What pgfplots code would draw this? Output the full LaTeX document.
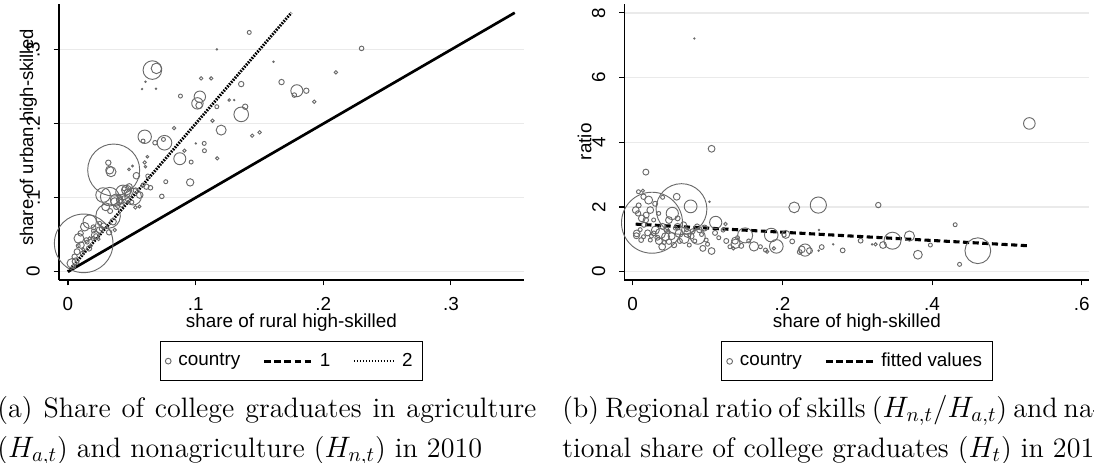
\documentclass[border=0pt]{standalone}
\usepackage{pgfplots}
\pgfplotsset{compat=1.18}
\usepackage{fontspec}
\newfontfamily\arial{Liberation Sans}
\newcommand\af{\arial\fontsize{9.2}{11}\selectfont}
\newcommand\capf{\fontsize{13.7}{16}\selectfont}
\definecolor{markgray}{RGB}{105,105,105}
\definecolor{gridgray}{RGB}{234,234,234}
\pgfplotsset{
  stata/.style={
    scale only axis, width=226.6pt, height=134.55pt,
    axis x line*=bottom, axis y line*=left,
    axis line style={-, black, line width=0.5pt},
    tick align=outside, major tick length=2.6pt,
    tick style={black, line width=0.5pt},
    ymajorgrids, grid style={gridgray, line width=0.6pt},
    tick label style={font=\af},
    xticklabel style={anchor=north, inner sep=0pt},
    yticklabel style={rotate=90, anchor=south, inner sep=0pt},
    xticklabel shift=5.6pt, yticklabel shift=6.5pt,
    every axis x label/.style={at={(axis description cs:0.5,-0.1717)}, anchor=base, font=\af, inner sep=0pt},
    clip=false,
    legend style={at={(0.5,-0.2225)}, anchor=north, font=\af, draw=black,
      line width=0.5pt, inner xsep=2pt, inner ysep=3.4pt, legend columns=-1,
      /tikz/every even column/.append style={column sep=8pt},
      nodes={inner xsep=3pt, inner ysep=2pt}},
  },
  bubbles/.style={scatter, only marks, mark=o,
    scatter/use mapped color={draw=markgray},
    visualization depends on={\thisrow{r}\as\rr},
    scatter/@pre marker code/.append style={/tikz/mark size=\rr*0.4875pt},
    mark options={line width=0.45pt}},
  legcircle/.style={legend image code/.code={\path[draw=none] (0pt,-1pt) rectangle (4pt,1pt); \draw[markgray, line width=0.45pt] (2pt,0pt) circle (1.4pt);}},
  legdash/.style={legend image code/.code={\draw[black, line width=1.4pt, dash pattern=on 3.3pt off 1.6pt] (0pt,0pt) -- (23.4pt,0pt);}},
  legdot/.style={legend image code/.code={\draw[black, line width=0.9pt, dash pattern=on 0.5pt off 0.95pt] (0pt,0pt) -- (20pt,0pt);}},
}
\begin{document}
\begin{tikzpicture}
\begin{axis}[stata, at={(28.76pt,89.21pt)}, anchor=south west,
  xmin=-0.00705, xmax=0.3571, ymin=-0.01122, ymax=0.3618,
  xtick={0,0.1,0.2,0.3}, xticklabels={0,.1,.2,.3},
  ytick={0,0.1,0.2,0.3}, yticklabels={0,.1,.2,.3},
  xlabel={share of rural high-skilled},
  ylabel={share of urban high-skilled},
  every axis y label/.style={at={(axis description cs:-0.0559,0.516)}, rotate=90, anchor=base, font=\arial\fontsize{9.0}{11}\selectfont, inner sep=0pt}]
\addplot[bubbles, forget plot] table {
x y r
0.1420 0.3234 2.0
0.2300 0.3018 2.3
0.1166 0.3005 0.7
0.0661 0.2725 9.3
0.0693 0.2748 5.3
0.0607 0.2568 0.7
0.0580 0.2468 0.7
0.0690 0.2473 0.7
0.1043 0.2613 1.7
0.1122 0.2613 1.7
0.1610 0.2838 0.7
0.2099 0.2694 1.7
0.1673 0.2563 2.7
0.1357 0.2536 2.7
0.1793 0.2446 6.0
0.1773 0.2387 2.3
0.1867 0.2446 2.7
0.1929 0.2297 1.7
0.1033 0.2365 5.7
0.1014 0.2275 5.7
0.1027 0.2248 3.3
0.0881 0.2374 2.0
0.1263 0.2320 1.3
0.1302 0.2320 0.7
0.1166 0.2230 2.0
0.1388 0.2230 2.7
0.1357 0.2126 7.3
0.1132 0.2041 1.7
0.1200 0.1914 5.0
0.0831 0.1941 1.7
0.1443 0.1838 1.7
0.1501 0.1883 1.7
0.0601 0.1824 6.7
0.0588 0.1766 2.0
0.0682 0.1743 2.3
0.0756 0.1743 7.3
0.0748 0.1788 2.0
0.1001 0.1734 0.7
0.1067 0.1734 2.0
0.1069 0.1635 2.0
0.0912 0.1635 1.7
0.0876 0.1527 6.0
0.1169 0.1532 1.7
0.0965 0.1482 2.0
0.0622 0.1554 1.3
0.0601 0.1477 1.7
0.0607 0.1419 1.3
0.0358 0.1374 26.0
0.0316 0.1473 2.7
0.0327 0.1374 4.0
0.0337 0.1351 5.0
0.0478 0.1383 1.3
0.0505 0.1428 1.0
0.0536 0.1297 3.3
0.0625 0.1293 2.0
0.0766 0.1216 2.0
0.0957 0.1207 3.7
0.0646 0.1135 2.3
0.0735 0.1018 2.3
0.0528 0.0869 1.7
0.0275 0.1036 7.3
0.0327 0.1014 9.3
0.0431 0.1072 7.3
0.0458 0.1104 5.0
0.0379 0.0968 6.0
0.0510 0.1014 8.3
0.0471 0.1059 4.3
0.0366 0.0946 4.0
0.0405 0.0968 3.3
0.0562 0.1036 3.3
0.0614 0.1149 2.7
0.0588 0.1171 2.0
0.0314 0.0752 12.3
0.0353 0.0676 3.3
0.0322 0.0532 2.7
0.0366 0.0563 1.7
0.0123 0.0383 29.3
0.0170 0.0676 6.7
0.0131 0.0608 4.3
0.0086 0.0450 5.0
0.0214 0.0495 4.0
0.0248 0.0563 3.3
0.0029 0.0113 4.7
0.0102 0.0360 3.3
0.0099 0.0518 2.7
0.0295 0.0878 4.0
0.0052 0.0203 2.7
0.0071 0.0270 3.0
0.0044 0.0068 2.0
0.0112 0.0248 2.0
0.0144 0.0428 2.3
0.0196 0.0450 2.0
0.0165 0.0315 2.7
0.0248 0.0653 2.0
0.0060 0.0140 3.5
0.0080 0.0350 2.0
0.0200 0.0600 2.5
0.0420 0.0900 2.0
0.0150 0.0400 2.0
0.0180 0.0350 1.5
0.0220 0.0480 2.5
0.0260 0.0580 2.0
0.0280 0.0620 3.0
0.0200 0.0550 2.0
0.0120 0.0300 1.5
0.0170 0.0450 1.7
0.0240 0.0440 1.5
0.0330 0.0820 2.5
0.0380 0.0880 3.0
0.0420 0.0950 2.5
0.0450 0.0980 4.0
0.0480 0.1150 3.0
0.0400 0.1020 2.0
0.0530 0.1100 2.5
0.0440 0.1120 2.0
0.0500 0.0940 2.0
0.0560 0.0880 1.5
};
\addplot[black, line width=1.3pt, forget plot] coordinates {(0,0) (0.35,0.35)};
\addplot[black, line width=1.4pt, dash pattern=on 0.8pt off 0.6pt, forget plot] coordinates {(0,0) (0.175,0.35)};
\addlegendimage{legcircle}\addlegendentry{country}
\addlegendimage{legdash}\addlegendentry{1}
\addlegendimage{legdot}\addlegendentry{2}
\end{axis}

\begin{axis}[stata, at={(304.44pt,89.21pt)}, anchor=south west,
  xmin=-0.01096, xmax=0.610, ymin=-0.2566, ymax=8.275,
  xtick={0,0.2,0.4,0.6}, xticklabels={0,.2,.4,.6},
  ytick={0,2,4,6,8}, yticklabels={0,2,4,6,8},
  xlabel={share of high-skilled},
  ylabel={ratio},
  every axis y label/.style={at={(axis description cs:-0.0715,0.501)}, rotate=90, anchor=base, font=\af, inner sep=0pt}]
\addplot[bubbles, forget plot] table {
x y r
0.0824 7.209 0.7
0.5299 4.583 5.8
0.1054 3.800 3.4
0.0176 3.079 3.0
0.3281 2.060 2.7
0.2480 2.060 8.1
0.2158 1.988 5.4
0.0774 2.019 6.4
0.0258 1.514 30.5
0.0652 1.936 25.4
0.4308 1.452 2.0
0.4611 0.649 12.9
0.3810 0.525 4.4
0.4367 0.227 2.0
0.3471 0.958 8.5
0.3697 1.102 5.1
0.3344 0.824 3.4
0.3977 0.824 2.0
0.3045 0.958 2.4
0.3199 0.845 0.7
0.2805 0.659 2.4
0.2679 0.845 0.7
0.2525 0.762 2.4
0.2484 0.649 0.7
0.2303 0.669 6.1
0.2258 0.690 3.4
0.2362 0.649 3.0
0.2231 0.608 2.4
0.2131 0.937 2.4
0.2045 1.153 4.0
0.1919 0.783 6.8
0.1851 1.133 6.8
0.1620 0.783 4.7
0.1502 1.123 7.5
0.1376 0.865 4.7
0.1367 0.958 3.4
0.1109 1.524 6.1
0.1054 0.639 3.4
0.0869 1.081 7.5
0.0937 0.721 3.0
0.1208 1.287 2.0
0.1240 1.473 1.7
0.1299 0.772 2.0
0.1344 0.721 1.7
0.1706 0.772 2.0
0.1774 0.669 2.0
0.1796 0.618 1.7
0.1887 0.721 1.7
0.2023 1.133 2.0
0.0041 1.905 3.4
0.0077 2.472 2.0
0.0136 2.503 1.7
0.0145 2.317 2.7
0.0213 2.214 4.0
0.0235 1.905 3.4
0.0122 1.648 3.4
0.0054 1.184 3.4
0.0176 1.596 2.7
0.0303 1.287 4.0
0.0371 1.184 5.1
0.0439 1.081 4.0
0.0484 1.596 3.4
0.0529 1.802 6.1
0.0588 2.317 3.4
0.0620 1.184 4.0
0.0688 1.030 5.1
0.0733 1.184 4.0
0.0394 0.772 3.4
0.0484 0.927 2.7
0.0235 0.978 2.0
0.0145 1.081 2.0
0.0552 0.824 2.7
0.0756 0.824 2.0
0.0891 1.287 2.7
0.0982 0.978 2.0
0.0348 1.802 2.0
0.1027 2.163 0.7
0.0113 0.978 2.4
0.0281 1.184 2.4
0.0050 1.112 3.0
0.0072 1.802 2.7
0.2489 1.287 0.7
0.3244 0.845 1.7
0.0600 1.400 3.0
0.0450 1.300 2.5
0.0800 1.250 2.5
0.0100 1.300 2.0
0.0150 1.450 2.5
0.0200 1.200 3.0
0.0280 1.600 2.0
0.0330 1.050 2.5
0.0400 1.400 3.0
0.0420 0.900 2.0
0.0470 1.250 2.0
0.0520 1.100 3.5
0.0570 1.350 2.0
0.0630 0.950 2.5
0.0680 1.450 3.0
0.0720 1.300 2.0
0.0780 1.100 3.0
0.0830 0.950 2.0
0.0860 1.400 2.5
0.0920 1.150 2.0
0.0960 1.350 3.0
0.1000 0.850 2.0
0.1100 1.200 2.5
0.1150 1.050 2.0
0.1250 0.950 2.5
0.1400 1.050 2.0
0.1450 0.800 2.5
0.1550 0.950 2.0
0.0300 2.100 2.5
0.0400 2.300 2.0
0.0080 2.050 2.5
0.0180 1.750 3.0
0.0600 1.650 2.5
0.0350 0.950 3.5
0.0250 1.100 2.0
};
\addplot[black, line width=1.5pt, dash pattern=on 3pt off 1.7pt, forget plot] coordinates {(0.004,1.47) (0.53,0.80)};
\addlegendimage{legcircle}\addlegendentry{country}
\addlegendimage{legdash}\addlegendentry{fitted values}
\end{axis}

\node[anchor=base west, inner sep=0pt] at (-1.46pt,22.4pt) {\capf\makebox[262.8pt][s]{(a) Share of college graduates in agriculture}};
\node[anchor=base west, inner sep=0pt] at (-1.46pt,2.9pt) {\capf($H_{a,t}$) and nonagriculture ($H_{n,t}$) in 2010};
\node[anchor=base west, inner sep=0pt] at (273.98pt,22.4pt) {\capf\makebox[262.8pt][s]{(b) Regional ratio of skills ($H_{n,t}/H_{a,t}$) and na-}};
\node[anchor=base west, inner sep=0pt] at (273.98pt,2.9pt) {\capf tional share of college graduates ($H_t$) in 2010};

\pgfresetboundingbox
\path (0,0) rectangle (533.33pt,225.71pt);
\end{tikzpicture}
\end{document}
